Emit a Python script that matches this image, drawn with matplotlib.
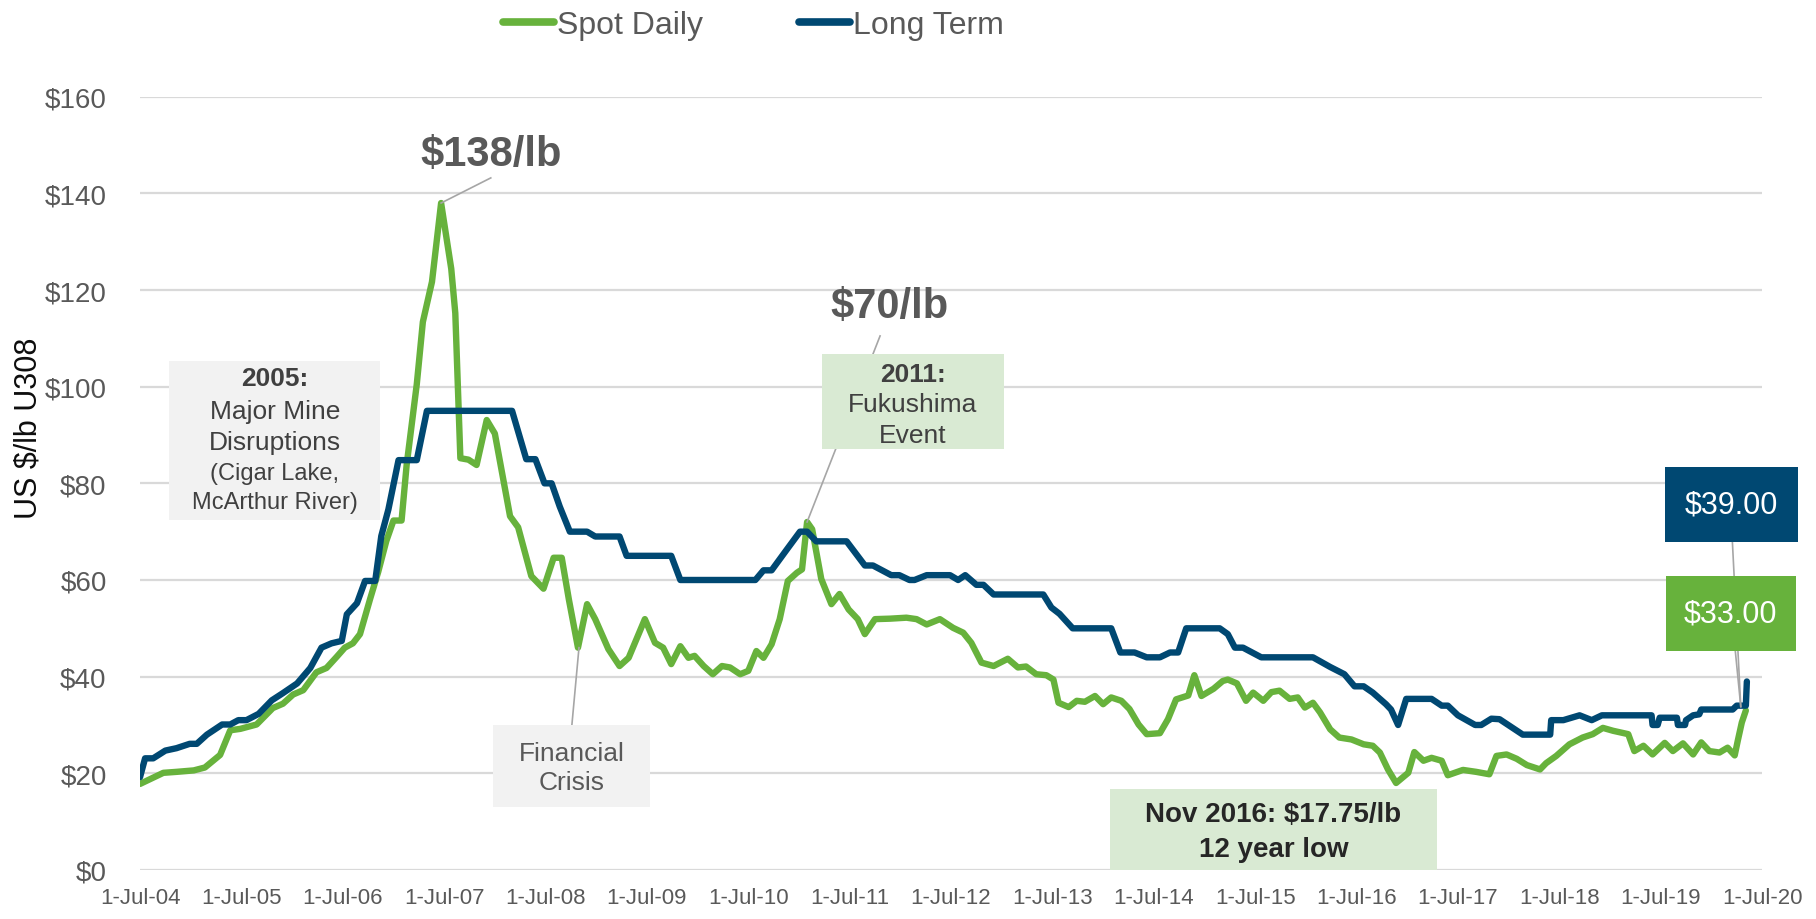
import matplotlib.pyplot as plt
from matplotlib.lines import Line2D
from matplotlib.patches import Rectangle

plt.rcParams['font.family'] = ['Liberation Sans', 'DejaVu Sans']

# monthly-ish readings, x in decimal years
spot_x = [2004.50, 2004.73, 2004.86, 2005.03, 2005.14, 2005.29, 2005.39, 2005.49, 2005.65, 2005.81,
          2005.91, 2006.01, 2006.11, 2006.24, 2006.34, 2006.44, 2006.52, 2006.60, 2006.67, 2006.77,
          2006.85, 2006.93, 2007.00, 2007.08, 2007.13, 2007.23, 2007.29, 2007.38, 2007.47, 2007.57,
          2007.61, 2007.66, 2007.74, 2007.82, 2007.92, 2008.00, 2008.15, 2008.23, 2008.36, 2008.48,
          2008.58, 2008.66, 2008.73, 2008.82, 2008.91, 2008.99, 2009.12, 2009.23, 2009.32, 2009.48,
          2009.58, 2009.66, 2009.74, 2009.83, 2009.91, 2009.97, 2010.06, 2010.15, 2010.24, 2010.32,
          2010.42, 2010.50, 2010.58, 2010.65, 2010.73, 2010.81, 2010.89, 2010.98, 2011.03, 2011.08,
          2011.13, 2011.22, 2011.32, 2011.40, 2011.49, 2011.58, 2011.65, 2011.75, 2011.90, 2012.06,
          2012.16, 2012.26, 2012.39, 2012.52, 2012.62, 2012.70, 2012.80, 2012.92, 2013.06, 2013.16,
          2013.24, 2013.34, 2013.44, 2013.51, 2013.56, 2013.66, 2013.74, 2013.82, 2013.92, 2014.00,
          2014.08, 2014.18, 2014.26, 2014.35, 2014.43, 2014.56, 2014.64, 2014.72, 2014.84, 2014.90,
          2014.97, 2015.09, 2015.18, 2015.23, 2015.32, 2015.41, 2015.48, 2015.58, 2015.66, 2015.74,
          2015.84, 2015.92, 2015.99, 2016.07, 2016.14, 2016.24, 2016.33, 2016.45, 2016.57, 2016.66,
          2016.73, 2016.81, 2016.89, 2017.01, 2017.07, 2017.16, 2017.24, 2017.34, 2017.40, 2017.55,
          2017.68, 2017.81, 2017.88, 2017.98, 2018.08, 2018.18, 2018.31, 2018.37, 2018.47, 2018.60,
          2018.73, 2018.83, 2018.93, 2019.03, 2019.18, 2019.24, 2019.33, 2019.42, 2019.54, 2019.62,
          2019.72, 2019.82, 2019.90, 2019.98, 2020.08, 2020.16, 2020.23, 2020.26, 2020.30, 2020.34]
spot_price = [17.8, 20.1, 20.3, 20.6, 21.2, 23.8, 28.9, 29.2, 30.1, 33.5,
              34.4, 36.3, 37.2, 40.9, 41.8, 44.1, 46.0, 46.9, 48.8, 56.1,
              61.7, 68.1, 72.3, 72.3, 83.8, 100.5, 113.4, 121.7, 138.0, 124.4,
              115.2, 85.2, 84.9, 83.8, 93.1, 90.3, 73.2, 70.9, 60.8, 58.2,
              64.6, 64.6, 56.0, 46.0, 55.0, 51.9, 45.7, 42.2, 43.9, 51.9,
              47.0, 46.0, 42.6, 46.3, 43.9, 44.3, 42.2, 40.5, 42.2, 41.9,
              40.5, 41.2, 45.3, 43.9, 46.7, 51.9, 59.8, 61.5, 62.2, 72.0,
              70.5, 60.2, 55.0, 57.1, 53.9, 51.9, 48.8, 51.9, 52.0, 52.2,
              51.9, 50.8, 51.9, 50.1, 49.1, 47.0, 42.9, 42.2, 43.7, 41.9,
              42.1, 40.5, 40.3, 39.4, 34.6, 33.7, 35.0, 34.8, 36.0, 34.3,
              35.7, 35.0, 33.3, 30.1, 28.1, 28.3, 31.2, 35.3, 36.1, 40.3,
              36.0, 37.5, 39.1, 39.4, 38.6, 35.0, 36.7, 35.0, 36.8, 37.1,
              35.4, 35.7, 33.6, 34.6, 32.6, 29.1, 27.4, 27.0, 26.0, 25.7,
              24.3, 20.8, 18.0, 20.1, 24.4, 22.6, 23.2, 22.6, 19.6, 20.7,
              20.3, 19.8, 23.6, 23.9, 23.0, 21.7, 20.8, 22.1, 23.6, 26.0,
              27.4, 28.1, 29.4, 28.8, 28.1, 24.6, 25.7, 23.9, 26.3, 24.6,
              26.2, 23.9, 26.4, 24.6, 24.3, 25.3, 23.7, 26.7, 30.5, 33.0]

lt_x = [2004.50, 2004.55, 2004.63, 2004.75, 2004.86, 2004.99, 2005.06, 2005.16, 2005.31, 2005.39,
        2005.47, 2005.55, 2005.67, 2005.80, 2005.91, 2006.05, 2006.18, 2006.29, 2006.39, 2006.49,
        2006.54, 2006.64, 2006.72, 2006.82, 2006.88, 2006.95, 2007.05, 2007.23, 2007.33, 2008.17,
        2008.31, 2008.40, 2008.49, 2008.56, 2008.64, 2008.74, 2008.91, 2008.99, 2009.23, 2009.30,
        2009.74, 2009.83, 2010.57, 2010.65, 2010.73, 2010.88, 2011.01, 2011.08, 2011.17, 2011.47,
        2011.65, 2011.73, 2011.91, 2011.99, 2012.09, 2012.14, 2012.26, 2012.49, 2012.57, 2012.64,
        2012.75, 2012.82, 2012.92, 2013.41, 2013.49, 2013.57, 2013.70, 2014.08, 2014.17, 2014.31,
        2014.43, 2014.56, 2014.66, 2014.74, 2014.82, 2015.15, 2015.23, 2015.30, 2015.38, 2015.56,
        2016.07, 2016.24, 2016.38, 2016.48, 2016.57, 2016.66, 2016.79, 2016.84, 2016.91, 2016.99,
        2017.24, 2017.34, 2017.40, 2017.50, 2017.67, 2017.73, 2017.83, 2017.91, 2018.14, 2018.41,
        2018.42, 2018.54, 2018.70, 2018.82, 2018.92, 2019.41, 2019.42, 2019.47, 2019.49, 2019.66,
        2019.67, 2019.74, 2019.75, 2019.82, 2019.88, 2019.90, 2020.21, 2020.25, 2020.34, 2020.35]
lt_price = [19.2, 23.1, 23.1, 24.7, 25.2, 26.1, 26.1, 28.0, 30.1, 30.1,
            31.0, 31.0, 32.3, 35.1, 36.6, 38.6, 41.8, 46.0, 46.9, 47.4,
            52.9, 55.2, 59.8, 59.8, 69.1, 74.6, 84.8, 84.8, 95.0, 95.0,
            85.0, 85.0, 80.0, 80.0, 75.2, 70.0, 70.0, 69.0, 69.0, 65.0,
            65.0, 60.0, 60.0, 62.0, 62.0, 66.3, 70.0, 70.0, 68.0, 68.0,
            63.0, 63.0, 61.0, 61.0, 60.0, 60.0, 61.0, 61.0, 60.0, 61.0,
            59.0, 59.0, 57.0, 57.0, 54.3, 53.0, 50.0, 50.0, 45.0, 45.0,
            44.0, 44.0, 45.0, 45.0, 50.0, 50.0, 48.8, 46.0, 46.0, 44.0,
            44.0, 42.0, 40.5, 38.0, 38.0, 36.7, 34.3, 33.2, 30.0, 35.4,
            35.4, 34.0, 34.0, 32.0, 30.0, 30.0, 31.3, 31.2, 28.0, 28.0,
            31.0, 31.0, 32.0, 31.0, 32.0, 32.0, 30.0, 30.0, 31.5, 31.5,
            30.0, 30.0, 31.0, 32.0, 32.2, 33.2, 33.2, 34.0, 34.0, 39.0]

tick_pos = [2004.5 + i for i in range(17)]
tick_labels = ['1-Jul-04', '1-Jul-05', '1-Jul-06', '1-Jul-07', '1-Jul-08', '1-Jul-09',
               '1-Jul-10', '1-Jul-11', '1-Jul-12', '1-Jul-13', '1-Jul-14', '1-Jul-15',
               '1-Jul-16', '1-Jul-17', '1-Jul-18', '1-Jul-19', '1-Jul-20']

green = '#67B23C'
navy = '#004872'
grey_txt = '#595959'
dark_txt = '#404040'
lead = '#a6a6a6'

fig = plt.figure(figsize=(18.16, 9.2), dpi=100)
ax = fig.add_axes([0.0771, 0.0533, 0.8932, 0.8405])

ax.plot(spot_x, spot_price, color=green, lw=4.6, solid_joinstyle='round', solid_capstyle='round', zorder=2)
ax.plot(lt_x, lt_price, color=navy, lw=4.6, solid_joinstyle='round', solid_capstyle='round', zorder=2)

ax.set_xlim(2004.5, 2020.5)
ax.set_ylim(0, 160)
ax.set_yticks(range(0, 161, 20))
ax.set_yticklabels([f'${v}' for v in range(0, 161, 20)])
ax.set_xticks(tick_pos)
ax.set_xticklabels(tick_labels)
ax.tick_params(axis='y', length=0, pad=24, labelsize=20, labelcolor=grey_txt)
ax.tick_params(axis='x', length=0, pad=12, labelsize=16, labelcolor=grey_txt)
ax.grid(axis='y', color='#d9d9d9', lw=1.6)
ax.set_axisbelow(True)
for s in ax.spines.values():
    s.set_visible(False)

ax.set_ylabel('US $/lb U308', fontsize=22, color='#0d0d0d', va='center')
ax.yaxis.set_label_coords(-0.069, 0.573)


def box(x0, x1, y0, y1, color):
    ax.add_patch(Rectangle((x0, y0), x1 - x0, y1 - y0, fc=color, ec='none', zorder=4, clip_on=False))


# peak labels with leader lines
ax.text(2007.96, 148.2, '$138/lb', fontsize=30, fontweight='bold', color=grey_txt, ha='center', va='center', zorder=5)
ax.plot([2007.47, 2007.96], [138, 143.2], color=lead, lw=1.2, zorder=3)
ax.text(2011.89, 116.6, '$70/lb', fontsize=30, fontweight='bold', color=grey_txt, ha='center', va='center', zorder=5)
ax.plot([2011.08, 2011.80], [72, 110.5], color=lead, lw=1.2, zorder=3)

# 2005 box
box(2004.79, 2006.87, 72.4, 105.3, '#f2f2f2')
cx = 2005.83
ax.text(cx, 101.7, '2005:', fontsize=19, fontweight='bold', color=dark_txt, ha='center', va='center', zorder=5)
ax.text(cx, 95.0, 'Major Mine', fontsize=19, color=dark_txt, ha='center', va='center', zorder=5)
ax.text(cx, 88.5, 'Disruptions', fontsize=19, color=dark_txt, ha='center', va='center', zorder=5)
ax.text(cx, 82.1, '(Cigar Lake,', fontsize=17, color=dark_txt, ha='center', va='center', zorder=5)
ax.text(cx, 76.1, 'McArthur River)', fontsize=17, color=dark_txt, ha='center', va='center', zorder=5)

# Fukushima box
box(2011.23, 2013.02, 87.1, 106.7, '#d9ead3')
cx = 2012.12
ax.text(cx, 102.7, '2011:', fontsize=19, fontweight='bold', color=dark_txt, ha='center', va='center', zorder=5)
ax.text(cx, 96.5, 'Fukushima', fontsize=19, color=dark_txt, ha='center', va='center', zorder=5)
ax.text(cx, 90.1, 'Event', fontsize=19, color=dark_txt, ha='center', va='center', zorder=5)

# financial crisis box
box(2007.98, 2009.53, 13.0, 30.0, '#f2f2f2')
ax.plot([2008.76, 2008.83], [30, 46], color=lead, lw=1.2, zorder=3)
ax.text(2008.755, 24.2, 'Financial', fontsize=19, color=grey_txt, ha='center', va='center', zorder=5)
ax.text(2008.755, 18.2, 'Crisis', fontsize=19, color=grey_txt, ha='center', va='center', zorder=5)

# Nov 2016 low box
box(2014.07, 2017.29, 0, 16.8, '#d9ead3')
ax.text(2015.68, 11.6, 'Nov 2016: $17.75/lb', fontsize=20, fontweight='bold', color='#262626',
        ha='center', va='center', zorder=5)
ax.text(2015.68, 4.3, '12 year low', fontsize=20, fontweight='bold', color='#262626',
        ha='center', va='center', zorder=5)

# end-of-series value boxes
ax.plot([2020.19, 2020.29], [75, 33.8], color=lead, lw=1.2, zorder=3, clip_on=False)
ax.plot([2020.20, 2020.29], [53, 33.8], color=lead, lw=1.2, zorder=3, clip_on=False)
box(2019.54, 2020.85, 67.9, 83.4, navy)
ax.text(2020.195, 75.6, f'${lt_price[-1]:.2f}', fontsize=22, color='white', ha='center', va='center',
        zorder=5, clip_on=False)
box(2019.55, 2020.83, 45.3, 60.8, green)
ax.text(2020.19, 53.0, f'${spot_price[-1]:.2f}', fontsize=22, color='white', ha='center', va='center',
        zorder=5, clip_on=False)

handles = [Line2D([], [], color=green, lw=5.5, solid_capstyle='round'),
           Line2D([], [], color=navy, lw=5.5, solid_capstyle='round')]
leg = fig.legend(handles, ['Spot Daily', 'Long Term'], loc='upper center', bbox_to_anchor=(0.415, 1.009),
                 ncol=2, frameon=False, fontsize=23, handlelength=1.6, handletextpad=0.1,
                 columnspacing=3.0, borderaxespad=0.2)
for t in leg.get_texts():
    t.set_color(grey_txt)

fig.savefig('out.png', dpi=100)
